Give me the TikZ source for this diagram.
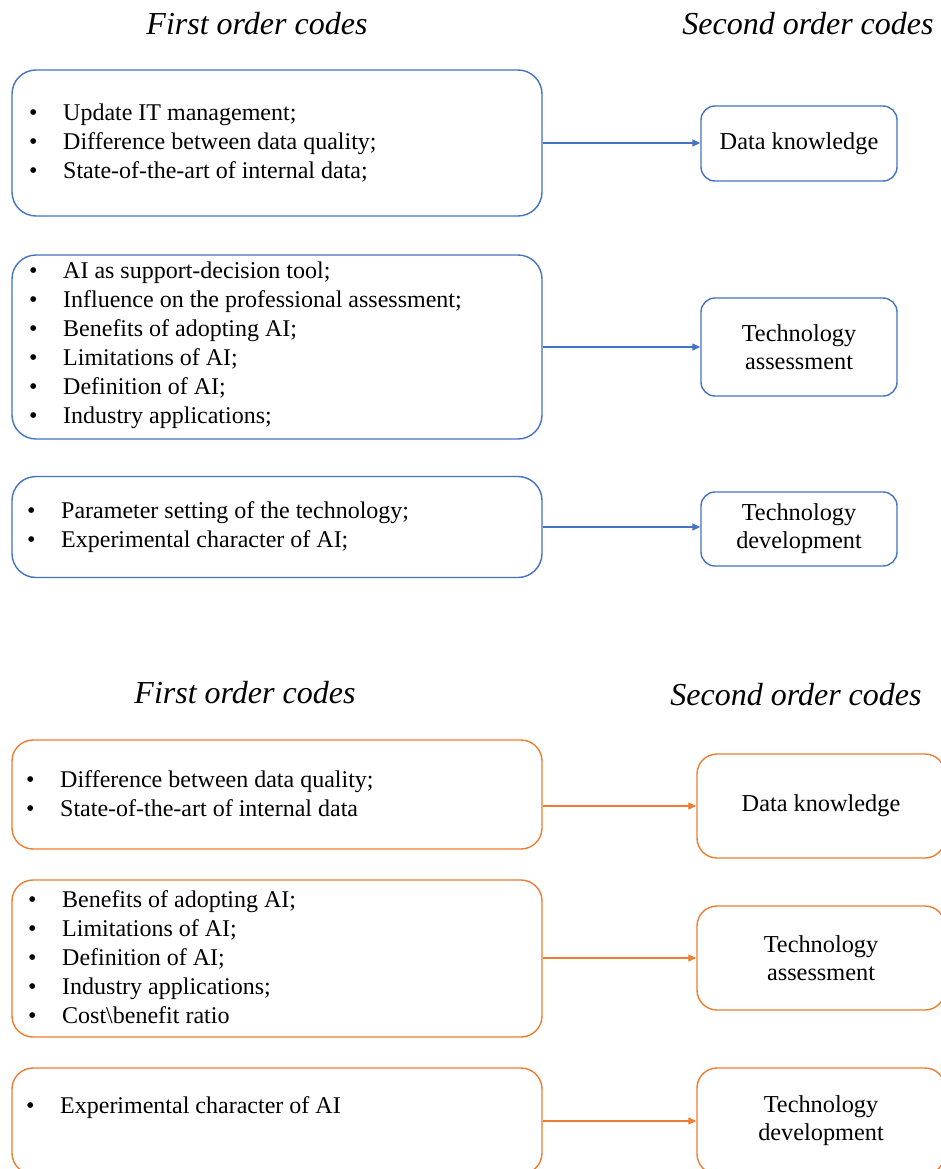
\documentclass[tikz,border=0pt]{standalone}
\usepackage{fontspec}
\setmainfont{Liberation Serif}
\usetikzlibrary{arrows.meta}
\definecolor{codeblue}{HTML}{4472C4}
\definecolor{codeorange}{HTML}{ED7D31}
\newcommand{\itm}[1]{\makebox[34pt][l]{\textbullet}#1}
\begin{document}
\begin{tikzpicture}[x=1pt,y=-1pt,
  firstbox/.style={rectangle, draw, line width=1.4pt, rounded corners=24pt,
    minimum width=530pt, minimum height=#1, inner sep=0pt},
  secondbox/.style={rectangle, draw, line width=1.4pt, rounded corners=14pt,
    minimum width=196pt, minimum height=#1, inner sep=0pt, align=center,
    font=\fontsize{24.3}{28}\selectfont},
  wide/.style={minimum width=248pt, rounded corners=20pt},
  items/.style={anchor=west, inner sep=0pt, align=left,
    font=\fontsize{24}{29}\selectfont},
  heading/.style={font=\fontsize{32}{36}\selectfont\itshape, inner sep=0pt},
  link/.style={line width=1.3pt, -{Triangle[length=8pt,width=7pt]}},
  blueset/.style={draw=codeblue},
  orangeset/.style={draw=codeorange}
]
\clip (0,0) rectangle (941,1169);
\fill[white] (0,0) rectangle (941,1169);

% ---- upper panel ----
\node[heading] (h1) at (257,24) {First order codes};
\node[heading] (h2) at (808,24) {Second order codes};

\node[firstbox=146pt, blueset] (b1) at (277,143) {};
\node[firstbox=184pt, blueset] (b2) at (277,347) {};
\node[firstbox=101pt, blueset] (b3) at (277,527) {};

\node[items] (l1) at (29,143) {\itm{Update IT management;}\\
  \itm{Difference between data quality;}\\
  \itm{State-of-the-art of internal data;}};
\node[items] (l2) at (29,345) {\itm{AI as support-decision tool;}\\
  \itm{Influence on the professional assessment;}\\
  \itm{Benefits of adopting AI;}\\
  \itm{Limitations of AI;}\\
  \itm{Definition of AI;}\\
  \itm{Industry applications;}};
\node[items] (l3) at (27,527) {\itm{Parameter setting of the technology;}\\
  \itm{Experimental character of AI;}};

\node[secondbox=75pt, blueset] (s1) at (799,143.5) {Data knowledge};
\node[secondbox=98pt, blueset] (s2) at (799,347) {Technology\\assessment};
\node[secondbox=74pt, blueset] (s3) at (799,529) {Technology\\development};

\draw[link, codeblue] (b1) -- (b1 -| s1.west);
\draw[link, codeblue] (b2) -- (b2 -| s2.west);
\draw[link, codeblue] (b3) -- (b3 -| s3.west);

% ---- lower panel ----
\node[heading] (h3) at (245,693) {First order codes};
\node[heading] (h4) at (796,695) {Second order codes};

\node[firstbox=109pt, orangeset, rounded corners=21pt] (o1) at (277,794.5) {};
\node[firstbox=157pt, orangeset, rounded corners=21pt] (o2) at (277,958.5) {};
\node[firstbox=106pt, orangeset, rounded corners=21pt] (o3) at (277,1121) {};

\node[items] (l4) at (26,793.5) {\itm{Difference between data quality;}\\
  \itm{State-of-the-art of internal data}};
\node[items] (l5) at (28,957) {\itm{Benefits of adopting AI;}\\
  \itm{Limitations of AI;}\\
  \itm{Definition of AI;}\\
  \itm{Industry applications;}\\
  \itm{Cost\textbackslash benefit ratio}};
\node[items] (l6) at (26,1108) {\itm{Experimental character of AI}};

\node[secondbox=104pt, wide, orangeset] (t1) at (821,806) {Data knowledge};
\node[secondbox=104pt, wide, orangeset] (t2) at (821,958) {Technology\\assessment};
\node[secondbox=106pt, wide, orangeset] (t3) at (821,1121) {Technology\\development};

\draw[link, codeorange] (o1.east |- t1) -- (t1.west);
\draw[link, codeorange] (o2.east |- t2) -- (t2.west);
\draw[link, codeorange] (o3) -- (o3 -| t3.west);
\end{tikzpicture}
\end{document}
